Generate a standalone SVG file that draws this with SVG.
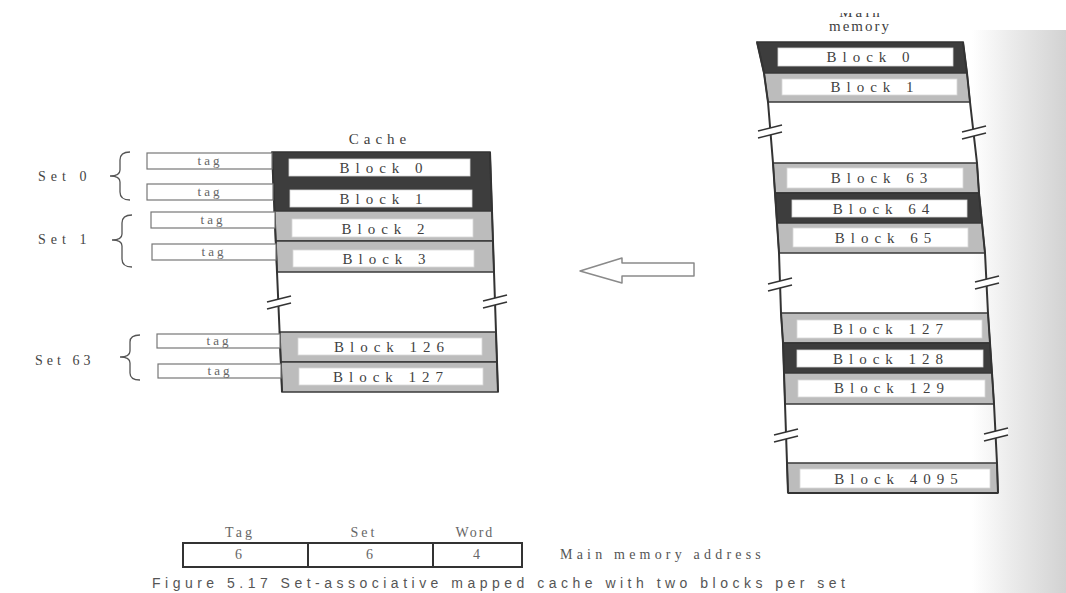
<svg xmlns="http://www.w3.org/2000/svg" width="1066" height="593" viewBox="0 0 1066 593">
<defs>
<style>
.lbl{font-family:"Liberation Serif","Times New Roman",serif;font-size:15px;fill:#3f3f3f;letter-spacing:6px;text-anchor:middle}
.tag{font-family:"Liberation Serif","Times New Roman",serif;font-size:13px;fill:#666;letter-spacing:3px;text-anchor:middle}
.side{font-family:"Liberation Serif","Times New Roman",serif;font-size:14px;fill:#444;letter-spacing:5px}
.dark{fill:#3d3d3d;stroke:#333;stroke-width:1.5}
.light{fill:#bcbcbc;stroke:#3a3a3a;stroke-width:1.5}
.inner{fill:#fff;stroke:#d8d8d8;stroke-width:0.8}
.edge{stroke:#333;stroke-width:2;fill:none}
.tagbox{fill:#fff;stroke:#777;stroke-width:1.2}
.brace{fill:none;stroke:#555;stroke-width:1.3}
</style>
<linearGradient id="band" x1="0" y1="0" x2="1" y2="0">
<stop offset="0" stop-color="#ffffff"/>
<stop offset="0.4" stop-color="#ececec"/>
<stop offset="1" stop-color="#d2d2d2"/>
</linearGradient>
<g id="brk">
<polygon points="-12,1 12,-5 12,2 -12,8" fill="#fff"/>
<line x1="-12" y1="1" x2="12" y2="-5" stroke="#333" stroke-width="1.5"/>
<line x1="-12" y1="8" x2="12" y2="2" stroke="#333" stroke-width="1.5"/>
</g>
<clipPath id="topclip"><rect x="0" y="13" width="1066" height="580"/></clipPath>
</defs>
<rect x="0" y="0" width="1066" height="593" fill="#fff"/>
<rect x="972" y="30" width="94" height="563" fill="url(#band)"/>

<!-- Cache -->
<g id="cache">
<text class="lbl" x="380" y="144" style="letter-spacing:5px">Cache</text>
<g id="cache-set0">
<polygon class="dark" points="272,152 490,152 492,211 274.5,211"/>
<g id="cache-block0"><rect class="inner" x="289" y="159" width="181" height="17"/><text class="lbl" x="384" y="173">Block 0</text></g>
<g id="cache-block1"><rect class="inner" x="290" y="190" width="182" height="17"/><text class="lbl" x="384" y="204">Block 1</text></g>
</g>
<g id="cache-block2"><polygon class="light" points="274.5,211 492,211 493,241 275.7,241"/><rect class="inner" x="292" y="219" width="181" height="18"/><text class="lbl" x="386" y="234">Block 2</text></g>
<g id="cache-block3"><polygon class="light" points="275.7,241 493,241 494,272 277,272"/><rect class="inner" x="293" y="250" width="181" height="17"/><text class="lbl" x="387" y="264">Block 3</text></g>
<g id="cache-block126"><polygon class="light" points="279.6,332 496,332 497,362 280.8,362"/><rect class="inner" x="298" y="338" width="184" height="17"/><text class="lbl" x="392" y="352">Block 126</text></g>
<g id="cache-block127"><polygon class="light" points="280.8,362 497,362 498,392 282,392"/><rect class="inner" x="299" y="368" width="184" height="17"/><text class="lbl" x="391" y="382">Block 127</text></g>
<polyline class="edge" points="272,152 274.5,211 277,272 279.6,332 282,392"/>
<polyline class="edge" points="490,152 492,211 494,272 496,332 498,392"/>
<use href="#brk" x="279" y="301"/>
<use href="#brk" x="495" y="300"/>
</g>

<!-- Tags -->
<g id="tags">
<g id="tag0"><rect class="tagbox" x="147" y="153" width="125" height="16"/><text class="tag" x="210" y="165">tag</text></g>
<g id="tag1"><rect class="tagbox" x="147" y="184" width="126" height="16"/><text class="tag" x="210" y="196">tag</text></g>
<g id="tag2"><rect class="tagbox" x="151" y="212" width="124" height="16"/><text class="tag" x="213" y="224">tag</text></g>
<g id="tag3"><rect class="tagbox" x="152" y="244" width="124" height="16"/><text class="tag" x="214" y="256">tag</text></g>
<g id="tag126"><rect class="tagbox" x="157" y="334" width="123" height="14"/><text class="tag" x="219" y="345">tag</text></g>
<g id="tag127"><rect class="tagbox" x="158" y="364" width="123" height="14"/><text class="tag" x="220" y="375">tag</text></g>
</g>

<!-- Sets -->
<g id="set0"><text class="side" x="38" y="181">Set 0</text><path class="brace" d="M130,152 Q120,152 120,160 L120,170 Q120,176 110,176 Q120,176 120,182 L120,192 Q120,200 130,200"/></g>
<g id="set1"><text class="side" x="38" y="244">Set 1</text><path class="brace" d="M132,215 Q122,215 122,223 L122,234 Q122,240 112,240 Q122,240 122,246 L122,259 Q122,267 132,267"/></g>
<g id="set63"><text class="side" x="35" y="365" style="letter-spacing:4px">Set 63</text><path class="brace" d="M140,335 Q130,335 130,342 L130,351 Q130,357 120,357 Q130,357 130,363 L130,373 Q130,380 140,380"/></g>

<!-- Main memory -->
<g id="main-memory">
<g clip-path="url(#topclip)"><text class="lbl" x="861" y="17" style="letter-spacing:3px">Main</text></g>
<text class="lbl" x="860" y="31" style="letter-spacing:2px">memory</text>
<g id="mm-block0"><polygon class="dark" points="757,42 963,42 967,73 764,73"/><rect class="inner" x="778" y="48" width="175" height="18"/><text class="lbl" x="871" y="62">Block 0</text></g>
<g id="mm-block1"><polygon class="light" points="764,73 967,73 970,102 768,102"/><rect class="inner" x="782" y="79" width="175" height="16"/><text class="lbl" x="875" y="92">Block 1</text></g>
<g id="mm-block63"><polygon class="light" points="773,163 977,163 979,193 775,193"/><rect class="inner" x="787" y="168" width="176" height="20"/><text class="lbl" x="882" y="183">Block 63</text></g>
<g id="mm-block64"><polygon class="dark" points="775,193 979,193 982,223 777,223"/><rect class="inner" x="792" y="200" width="175" height="17"/><text class="lbl" x="884" y="214">Block 64</text></g>
<g id="mm-block65"><polygon class="light" points="777,223 982,223 985,253 779,253"/><rect class="inner" x="793" y="228" width="175" height="19"/><text class="lbl" x="886" y="243">Block 65</text></g>
<g id="mm-block127"><polygon class="light" points="781,313 988,313 990,343 783,343"/><rect class="inner" x="797" y="320" width="185" height="18"/><text class="lbl" x="891" y="334">Block 127</text></g>
<g id="mm-block128"><polygon class="dark" points="783,343 990,343 992,373 784,373"/><rect class="inner" x="797" y="350" width="186" height="17"/><text class="lbl" x="891" y="364">Block 128</text></g>
<g id="mm-block129"><polygon class="light" points="784,373 992,373 994,404 785,404"/><rect class="inner" x="798" y="380" width="187" height="17"/><text class="lbl" x="892" y="393">Block 129</text></g>
<g id="mm-block4095"><polygon class="light" points="787,463 997,463 998,493 788,493"/><rect class="inner" x="800" y="469" width="190" height="19"/><text class="lbl" x="899" y="484">Block 4095</text></g>
<polyline class="edge" points="757,42 764,73 768,102 773,163 775,193 777,223 779,253 781,313 783,343 784,373 785,404 787,463 788,493"/>
<polyline class="edge" points="963,42 967,73 970,102 977,163 979,193 982,223 985,253 988,313 990,343 992,373 994,404 997,463 998,493"/>
<line class="edge" x1="788" y1="493" x2="998" y2="493"/>
<use href="#brk" x="770" y="130"/>
<use href="#brk" x="974" y="131"/>
<use href="#brk" x="780" y="283"/>
<use href="#brk" x="987" y="281"/>
<use href="#brk" x="786" y="434"/>
<use href="#brk" x="996" y="433"/>
</g>

<!-- Connectors -->
<g id="connectors">
<polygon points="580,271 622,258 622,263 694,263 694,276 622,276 622,283" fill="#fff" stroke="#8a8a8a" stroke-width="1.5" stroke-linejoin="round"/>
</g>

<!-- Address format -->
<g id="address">
<text class="tag" x="240" y="537" style="font-size:14px">Tag</text>
<text class="tag" x="364" y="537" style="font-size:14px">Set</text>
<text class="tag" x="475" y="537" style="font-size:14px;letter-spacing:2px">Word</text>
<rect x="183" y="543" width="339" height="24" fill="#fff" stroke="#333" stroke-width="2"/>
<line x1="308" y1="543" x2="308" y2="567" stroke="#333" stroke-width="2"/>
<line x1="433" y1="543" x2="433" y2="567" stroke="#333" stroke-width="2"/>
<text class="tag" x="240" y="559" style="font-size:14px">6</text>
<text class="tag" x="371" y="559" style="font-size:14px">6</text>
<text class="tag" x="478" y="559" style="font-size:14px">4</text>
<text class="side" x="560" y="559" style="letter-spacing:4.2px;fill:#555">Main memory address</text>
</g>
<text x="152" y="588" font-family="Liberation Sans, Arial, sans-serif" font-size="14" fill="#555" textLength="693" lengthAdjust="spacing">Figure 5.17   Set-associative mapped cache with two blocks per set</text>
</svg>
